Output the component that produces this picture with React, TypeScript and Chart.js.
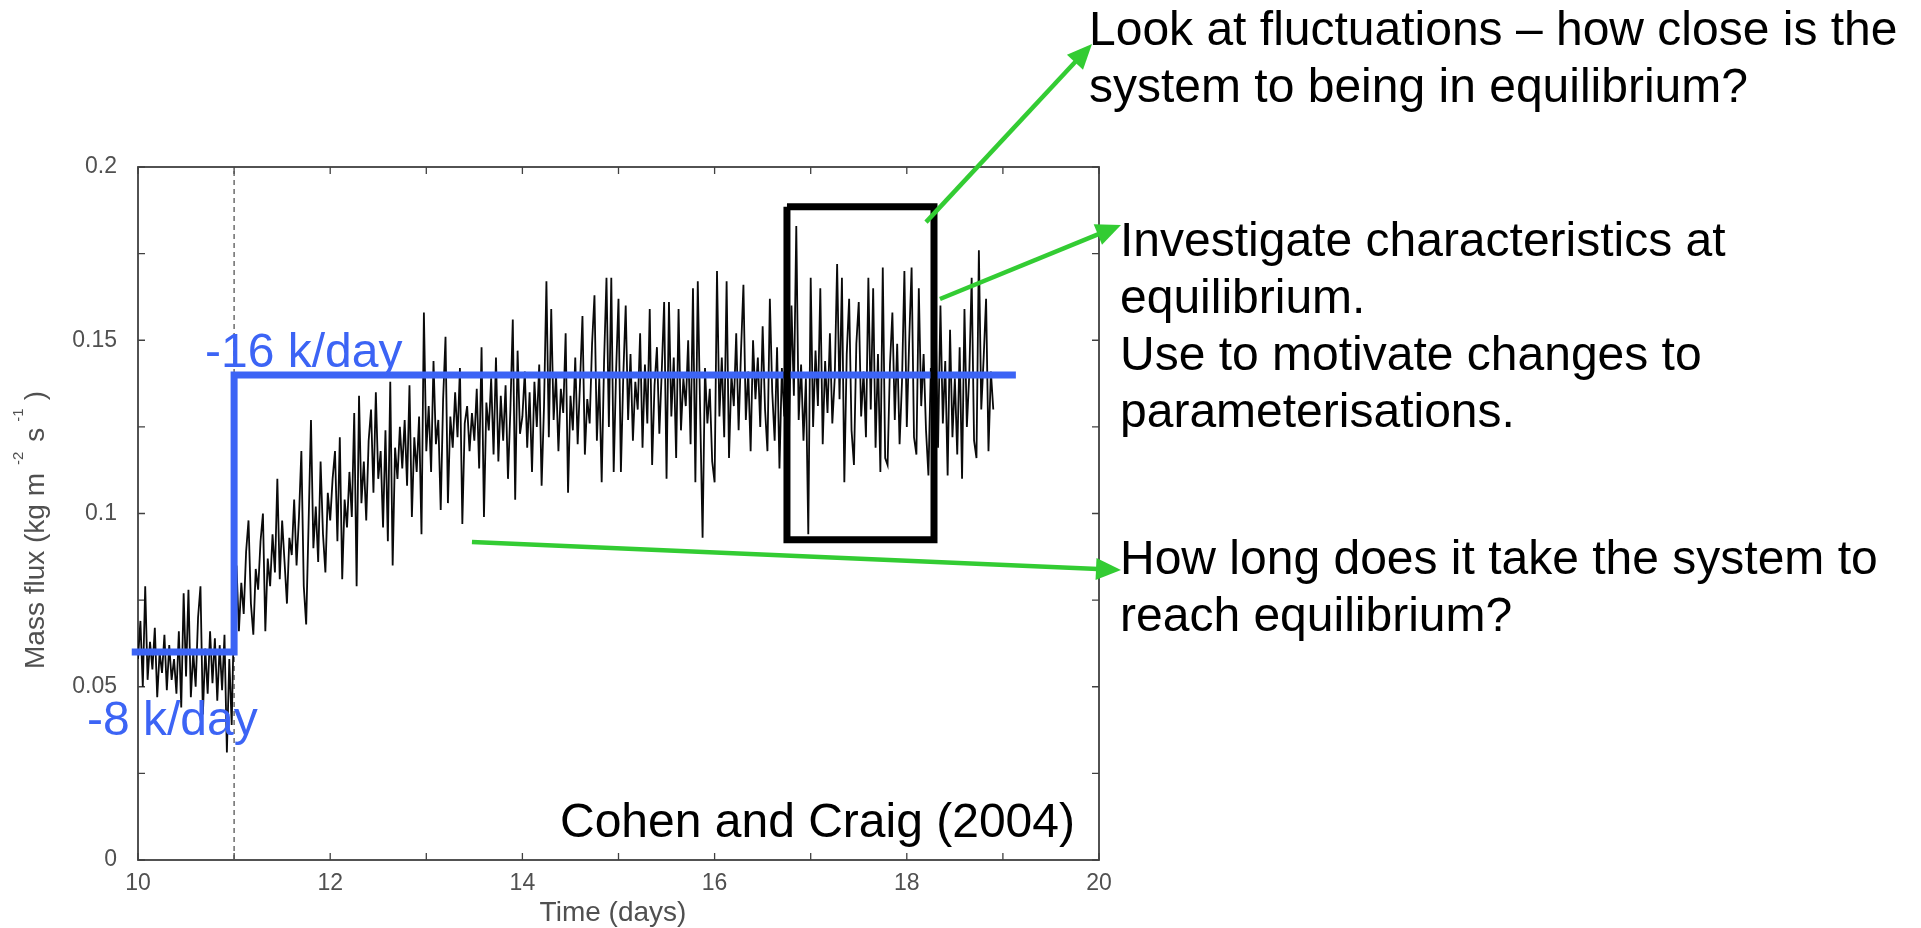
import React, { useEffect, useRef } from "react";
import { Chart, registerables } from "chart.js";

Chart.register(...registerables);

// ---- Data -----------------------------------------------------------------
// Domain-mean convective mass flux, sampled every 0.025 day, one array per day.
const firstDay = 10;
const sampleStep = 0.025;

const fluxDay10 = [
  0.058, 0.069, 0.05, 0.079, 0.052, 0.063, 0.055, 0.067, 0.047, 0.06,
  0.054, 0.065, 0.049, 0.062, 0.052, 0.058, 0.048, 0.066, 0.044, 0.077,
  0.053, 0.078, 0.047, 0.06, 0.05, 0.07, 0.079, 0.042, 0.061, 0.048,
  0.066, 0.051, 0.064, 0.046, 0.062, 0.049, 0.065, 0.031, 0.058, 0.039,
];
const fluxDay11 = [
  0.072, 0.085, 0.066, 0.08, 0.071, 0.089, 0.098, 0.074, 0.065, 0.084,
  0.078, 0.092, 0.1, 0.066, 0.087, 0.079, 0.094, 0.083, 0.11, 0.081,
  0.098, 0.086, 0.074, 0.093, 0.088, 0.104, 0.085, 0.099, 0.118, 0.079,
  0.068, 0.097, 0.127, 0.09, 0.102, 0.086, 0.115, 0.094, 0.083, 0.106,
];
const fluxDay12 = [
  0.098, 0.11, 0.118, 0.092, 0.122, 0.081, 0.104, 0.096, 0.112, 0.099,
  0.129, 0.079, 0.134, 0.103, 0.115, 0.098, 0.121, 0.13, 0.106, 0.135,
  0.11, 0.118, 0.096, 0.124, 0.092, 0.138, 0.085, 0.119, 0.11, 0.125,
  0.113, 0.127, 0.108, 0.137, 0.099, 0.122, 0.112, 0.128, 0.094, 0.158,
];
const fluxDay13 = [
  0.118, 0.131, 0.112, 0.144, 0.12, 0.127, 0.101, 0.133, 0.151, 0.103,
  0.128, 0.119, 0.135, 0.122, 0.142, 0.097, 0.126, 0.131, 0.118, 0.129,
  0.121, 0.136, 0.113, 0.148, 0.099, 0.132, 0.124, 0.139, 0.117, 0.145,
  0.115, 0.134, 0.121, 0.137, 0.11, 0.13, 0.156, 0.104, 0.147, 0.123,
];
const fluxDay14 = [
  0.128, 0.141, 0.119, 0.135, 0.112, 0.138, 0.125, 0.143, 0.108, 0.131,
  0.167, 0.122, 0.159, 0.127, 0.14, 0.118, 0.136, 0.129, 0.152, 0.106,
  0.134, 0.124, 0.145, 0.12, 0.138, 0.157, 0.117, 0.133, 0.126, 0.149,
  0.163, 0.121, 0.139, 0.109, 0.144, 0.168, 0.125, 0.168, 0.112, 0.141,
];
const fluxDay15 = [
  0.162, 0.112, 0.14, 0.16, 0.127, 0.146, 0.121, 0.138, 0.13, 0.152,
  0.119, 0.143, 0.126, 0.159, 0.114, 0.137, 0.148, 0.123, 0.141, 0.161,
  0.11, 0.161, 0.128, 0.145, 0.116, 0.159, 0.124, 0.139, 0.131, 0.15,
  0.12, 0.165, 0.109, 0.167, 0.129, 0.093, 0.142, 0.126, 0.136, 0.115,
];
const fluxDay16 = [
  0.109, 0.17, 0.128, 0.145, 0.122, 0.167, 0.116, 0.14, 0.131, 0.152,
  0.124, 0.147, 0.166, 0.127, 0.141, 0.118, 0.15, 0.133, 0.145, 0.125,
  0.154, 0.13, 0.118, 0.162, 0.135, 0.121, 0.148, 0.113, 0.142, 0.128,
  0.137, 0.124, 0.16, 0.134, 0.183, 0.127, 0.143, 0.121, 0.139, 0.094,
];
const fluxDay17 = [
  0.168, 0.125, 0.147, 0.131, 0.165, 0.12, 0.144, 0.129, 0.152, 0.126,
  0.139, 0.172, 0.133, 0.168, 0.109, 0.146, 0.162, 0.124, 0.114, 0.149,
  0.161, 0.128, 0.141, 0.122, 0.168, 0.13, 0.165, 0.119, 0.146, 0.112,
  0.171, 0.116, 0.114, 0.143, 0.158, 0.127, 0.149, 0.12, 0.138, 0.17,
];
const fluxDay18 = [
  0.125, 0.15, 0.171, 0.122, 0.117, 0.165, 0.131, 0.146, 0.124, 0.111,
  0.142, 0.128, 0.155, 0.119, 0.16, 0.126, 0.144, 0.111, 0.153, 0.122,
  0.139, 0.117, 0.148, 0.11, 0.159, 0.125, 0.14, 0.168, 0.121, 0.116,
  0.176, 0.13, 0.145, 0.162, 0.118, 0.141, 0.13,
];
const fluxByDay = [
  fluxDay10, fluxDay11, fluxDay12, fluxDay13, fluxDay14,
  fluxDay15, fluxDay16, fluxDay17, fluxDay18,
];

// Imposed cooling: -8 K/day, then -16 K/day from day 11
const forcingTimes = [9.935, 11, 11, 19.135];
const forcingLevels = [0.06, 0.06, 0.14, 0.14];

// Highlighted equilibrium window
const windowTimes = [16.753, 18.283, 18.283, 16.753, 16.753];
const windowLevels = [0.1885, 0.1885, 0.0924, 0.0924, 0.1885];

// Day on which the cooling is switched
const switchDay = 11;

// Axes
const xTicks = [10, 12, 14, 16, 18, 20];
const xTickLabels = ["10", "12", "14", "16", "18", "20"];
const xMinorTicks = [11, 13, 15, 17, 19];
const yTicks = [0, 0.05, 0.1, 0.15, 0.2];
const yTickLabels = ["0", "0.05", "0.1", "0.15", "0.2"];
const yMinorTicks = [0.025, 0.075, 0.125, 0.175];

// ---- Styling --------------------------------------------------------------
const FONT = "'Liberation Sans', Arial, Helvetica, sans-serif";
const BLUE = "#3c64f5";
const GREEN = "#33cc33";
const AXIS_GREY = "#404040";
const W = 1921;
const H = 928;

// Callout texts and where their arrows start (data units) and end (pixels)
const callouts = [
  {
    lines: ["Look at fluctuations \u2013 how close is the", "system to being in equilibrium?"],
    x: 1089, y: 45,
    from: { t: 18.2, v: 0.1841 }, tip: { x: 1092, y: 44 },
  },
  {
    lines: [
      "Investigate characteristics at",
      "equilibrium.",
      "Use to motivate changes to",
      "parameterisations.",
    ],
    x: 1120, y: 256,
    from: { t: 18.345, v: 0.1619 }, tip: { x: 1121, y: 225 },
  },
  {
    lines: ["How long does it take the system to", "reach equilibrium?"],
    x: 1120, y: 574,
    from: { t: 13.475, v: 0.0918 }, tip: { x: 1121, y: 570 },
  },
];

function drawArrow(ctx: CanvasRenderingContext2D, x0: number, y0: number, x1: number, y1: number) {
  const ang = Math.atan2(y1 - y0, x1 - x0);
  const headLen = 25;
  const headHalf = 11;
  const bx = x1 - headLen * Math.cos(ang);
  const by = y1 - headLen * Math.sin(ang);
  ctx.save();
  ctx.strokeStyle = GREEN;
  ctx.fillStyle = GREEN;
  ctx.lineWidth = 4.5;
  ctx.lineCap = "butt";
  ctx.beginPath();
  ctx.moveTo(x0, y0);
  ctx.lineTo(bx + 2 * Math.cos(ang), by + 2 * Math.sin(ang));
  ctx.stroke();
  ctx.beginPath();
  ctx.moveTo(x1, y1);
  ctx.lineTo(bx + headHalf * Math.sin(ang), by - headHalf * Math.cos(ang));
  ctx.lineTo(bx - headHalf * Math.sin(ang), by + headHalf * Math.cos(ang));
  ctx.closePath();
  ctx.fill();
  ctx.restore();
}

const backgroundPlugin = {
  id: "paper",
  beforeDraw(chart: any) {
    const ctx = chart.ctx;
    ctx.save();
    ctx.fillStyle = "#ffffff";
    ctx.fillRect(0, 0, chart.width, chart.height);
    ctx.restore();
  },
};

// Box frame with inward ticks on all four sides, plus axis titles
const framePlugin = {
  id: "frame",
  beforeDatasetsDraw(chart: any) {
    const ctx: CanvasRenderingContext2D = chart.ctx;
    const { left, right, top, bottom } = chart.chartArea;
    const xs = chart.scales.x;
    const ys = chart.scales.y;
    ctx.save();
    ctx.strokeStyle = AXIS_GREY;
    ctx.lineWidth = 1.8;
    ctx.strokeRect(left, top, right - left, bottom - top);
    const tick = 7;
    ctx.lineWidth = 1.3;
    ctx.beginPath();
    [...xTicks, ...xMinorTicks].forEach((t) => {
      const px = xs.getPixelForValue(t);
      ctx.moveTo(px, bottom);
      ctx.lineTo(px, bottom - tick);
      ctx.moveTo(px, top);
      ctx.lineTo(px, top + tick);
    });
    [...yTicks, ...yMinorTicks].forEach((v) => {
      const py = ys.getPixelForValue(v);
      ctx.moveTo(left, py);
      ctx.lineTo(left + tick, py);
      ctx.moveTo(right, py);
      ctx.lineTo(right - tick, py);
    });
    ctx.stroke();

    // x title
    ctx.fillStyle = "#505050";
    ctx.font = `28px ${FONT}`;
    ctx.textAlign = "center";
    ctx.textBaseline = "middle";
    ctx.fillText("Time (days)", 613, 913);

    // y title, rotated, with raised exponents
    ctx.translate(44, 669);
    ctx.rotate(-Math.PI / 2);
    ctx.textAlign = "left";
    ctx.textBaseline = "alphabetic";
    const big = `28px ${FONT}`;
    const small = `15px ${FONT}`;
    let u = 0;
    const put = (s: string, font: string, raise: number, gapAfter: number) => {
      ctx.font = font;
      ctx.fillText(s, u, raise);
      u += ctx.measureText(s).width + gapAfter;
    };
    put("Mass flux (kg m", big, 0, 8);
    put("-2", small, -21, 10);
    put("s", big, 0, 6);
    put("-1", small, -21, 8);
    put(")", big, 0, 0);
    ctx.restore();
  },
};

// Labels, citation and callouts on top of everything
const notesPlugin = {
  id: "notes",
  afterDraw(chart: any) {
    const ctx: CanvasRenderingContext2D = chart.ctx;
    const xs = chart.scales.x;
    const ys = chart.scales.y;
    ctx.save();
    ctx.textAlign = "left";
    ctx.textBaseline = "alphabetic";
    ctx.font = `48px ${FONT}`;

    ctx.fillStyle = BLUE;
    ctx.fillText("-16 k/day", 205, 367);
    ctx.fillText("-8 k/day", 87, 735);

    ctx.fillStyle = "#000000";
    ctx.fillText("Cohen and Craig (2004)", 560, 837);

    callouts.forEach((c) => {
      c.lines.forEach((line, i) => ctx.fillText(line, c.x, c.y + i * 57));
    });
    callouts.forEach((c) => {
      const x0 = xs.getPixelForValue(c.from.t);
      const y0 = ys.getPixelForValue(c.from.v);
      drawArrow(ctx, x0, y0, c.tip.x, c.tip.y);
    });
    ctx.restore();
  },
};

export default function App() {
  const canvasRef = useRef<HTMLCanvasElement | null>(null);

  useEffect(() => {
    const canvas = canvasRef.current;
    if (!canvas) return;

    const fluxPoints = fluxByDay.flatMap((vals, d) =>
      vals.map((v, i) => ({ x: firstDay + d + i * sampleStep, y: v }))
    );
    const forcingPoints = forcingTimes.map((t, i) => ({ x: t, y: forcingLevels[i] }));
    const windowPoints = windowTimes.map((t, i) => ({ x: t, y: windowLevels[i] }));
    const switchPoints = [
      { x: switchDay, y: yTicks[0] },
      { x: switchDay, y: yTicks[yTicks.length - 1] },
    ];

    const tickFont = { family: FONT, size: 23 };

    const chart = new Chart(canvas, {
      type: "scatter",
      data: {
        datasets: [
          {
            label: "window",
            data: windowPoints,
            showLine: true,
            borderColor: "#000000",
            borderWidth: 7,
            borderJoinStyle: "miter",
            pointRadius: 0,
            pointHoverRadius: 0,
            order: 0,
          },
          {
            label: "forcing",
            data: forcingPoints,
            showLine: true,
            borderColor: BLUE,
            borderWidth: 7,
            borderJoinStyle: "miter",
            borderCapStyle: "butt",
            pointRadius: 0,
            pointHoverRadius: 0,
            clip: false,
            order: 1,
          },
          {
            label: "mass flux",
            data: fluxPoints,
            showLine: true,
            borderColor: "#0a0a0a",
            borderWidth: 1.8,
            pointRadius: 0,
            pointHoverRadius: 0,
            order: 2,
          },
          {
            label: "switch",
            data: switchPoints,
            showLine: true,
            borderColor: "#555555",
            borderWidth: 1.3,
            borderDash: [5, 4],
            pointRadius: 0,
            pointHoverRadius: 0,
            order: 3,
          },
        ],
      },
      options: {
        responsive: false,
        animation: false,
        events: [],
        layout: { padding: { left: 0, top: 167, right: 822, bottom: 0 } },
        plugins: { legend: { display: false }, tooltip: { enabled: false } },
        scales: {
          x: {
            type: "linear",
            min: 10,
            max: 20,
            afterBuildTicks: (s: any) => {
              s.ticks = xTicks.map((v) => ({ value: v }));
            },
            afterFit: (s: any) => {
              s.height = 68;
            },
            grid: { display: false, drawTicks: false },
            border: { display: false },
            ticks: {
              padding: 10,
              color: "#505050",
              font: tickFont,
              maxRotation: 0,
              autoSkip: false,
              callback: (_v: any, i: number) => xTickLabels[i],
            },
          },
          y: {
            type: "linear",
            min: 0,
            max: 0.2,
            afterBuildTicks: (s: any) => {
              s.ticks = yTicks.map((v) => ({ value: v }));
            },
            afterFit: (s: any) => {
              s.width = 138;
            },
            grid: { display: false, drawTicks: false },
            border: { display: false },
            ticks: {
              padding: 21,
              color: "#505050",
              font: tickFont,
              autoSkip: false,
              callback: (_v: any, i: number) => yTickLabels[i],
            },
          },
        },
      },
      plugins: [backgroundPlugin, framePlugin, notesPlugin],
    } as any);

    return () => chart.destroy();
  }, []);

  return (
    <div
      style={{
        position: "fixed",
        left: 0,
        top: 0,
        width: W,
        height: H,
        overflow: "hidden",
        background: "#ffffff",
      }}
    >
      <canvas ref={canvasRef} width={W} height={H} style={{ display: "block" }} />
    </div>
  );
}
